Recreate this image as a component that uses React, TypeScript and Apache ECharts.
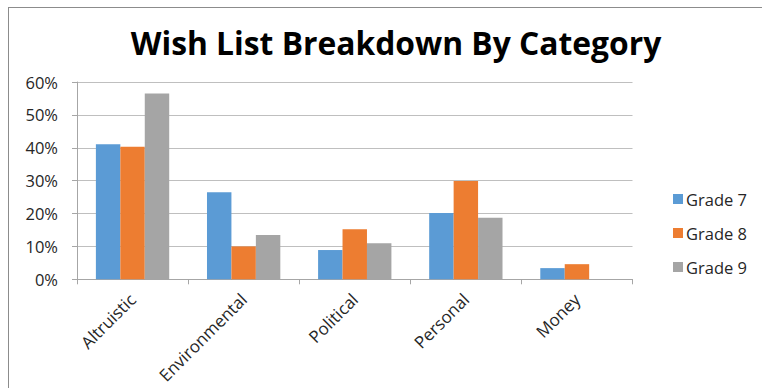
import React, { useEffect, useRef } from "react";
import * as echarts from "echarts";

const categories = ["Altruistic", "Environmental", "Political", "Personal", "Money"];
const grade7 = [41.1, 26.5, 8.9, 20.2, 3.4];
const grade8 = [40.3, 10.0, 15.2, 29.9, 4.6];
const grade9 = [56.5, 13.5, 11.0, 18.7, 0];
const seriesNames = ["Grade 7", "Grade 8", "Grade 9"];
const colors = ["#5B9BD5", "#ED7D31", "#A5A5A5"];

const FONT = "'Open Sans', 'Noto Sans', sans-serif";

export default function App() {
  const ref = useRef<HTMLDivElement>(null);
  useEffect(() => {
    if (!ref.current) return;
    const chart = echarts.init(ref.current, null, { renderer: "svg" });
    const data = [grade7, grade8, grade9];
    chart.setOption({
      animation: false,
      backgroundColor: "#ffffff",
      title: {
        text: "Wish List Breakdown By Category",
        left: 391,
        textAlign: "center",
        top: 21,
        textStyle: { fontFamily: FONT, fontWeight: "bold", fontSize: 31.8, color: "#000000" },
      },
      legend: {
        orient: "vertical",
        left: 668,
        top: 185,
        itemWidth: 10,
        itemHeight: 10,
        itemGap: 16,
        icon: "rect",
        data: seriesNames,
        textStyle: { fontFamily: FONT, fontSize: 16.5, color: "#262626", lineHeight: 18, padding: [0, 0, 0, -2] },
      },
      grid: { left: 77, right: 129.5, top: 82, bottom: 108.7, containLabel: false },
      xAxis: {
        type: "category",
        data: categories,
        axisLine: { show: true, lineStyle: { color: "#a6a6a6", width: 1 } },
        axisTick: { show: true, length: 5, alignWithLabel: false, lineStyle: { color: "#a6a6a6" } },
        axisLabel: { rotate: 45, interval: 0, margin: 17, fontFamily: FONT, fontSize: 17, color: "#262626" },
      },
      yAxis: {
        type: "value",
        min: 0,
        max: 60,
        interval: 10,
        axisLine: { show: true, lineStyle: { color: "#a6a6a6", width: 1 } },
        axisTick: { show: true, length: 5, lineStyle: { color: "#a6a6a6" } },
        axisLabel: { formatter: "{value}%", margin: 19, fontFamily: FONT, fontSize: 16.5, color: "#262626" },
        splitLine: { show: true, lineStyle: { color: "#bfbfbf", width: 1 } },
      },
      series: seriesNames.map((name, i) => ({
        name,
        type: "bar",
        data: data[i],
        barGap: "0%",
        barCategoryGap: "34%",
        itemStyle: { color: colors[i] },
      })),
      graphic: [
        { type: "line", shape: { x1: 8, y1: 7.5, x2: 762, y2: 7.5 }, style: { stroke: "#8c8c8c", lineWidth: 1 } },
        { type: "line", shape: { x1: 8.5, y1: 7, x2: 8.5, y2: 388 }, style: { stroke: "#8c8c8c", lineWidth: 1 } },
      ],
    });
    return () => chart.dispose();
  }, []);
  return <div ref={ref} style={{ width: 762, height: 388, position: "absolute", left: 0, top: 0 }} />;
}
